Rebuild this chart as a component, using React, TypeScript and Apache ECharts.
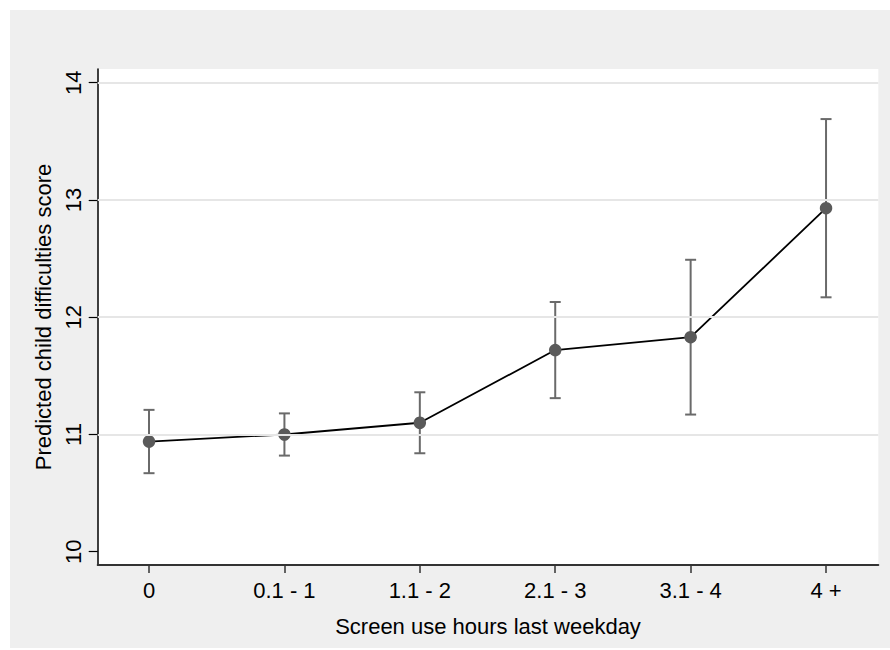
import React, { useEffect, useRef } from "react";
import * as echarts from "echarts";

const categories = ["0", "0.1 - 1", "1.1 - 2", "2.1 - 3", "3.1 - 4", "4 +"];
const means = [10.94, 11.0, 11.1, 11.72, 11.83, 12.93];
const lower = [10.67, 10.82, 10.84, 11.31, 11.17, 12.17];
const upper = [11.21, 11.18, 11.36, 12.13, 12.49, 13.69];
const yTicks = [10, 11, 12, 13, 14];
const gridLines = [11, 12, 13, 14];

const FONT = "'Liberation Sans', Arial, Helvetica, sans-serif";

export default function App() {
  const ref = useRef<HTMLDivElement>(null);
  useEffect(() => {
    if (!ref.current) return;
    const chart = echarts.init(ref.current, undefined, { renderer: "svg" });
    const xIdx = categories.map((_, i) => i);
    chart.setOption({
      animation: false,
      backgroundColor: "#ffffff",
      textStyle: { fontFamily: FONT },
      graphic: [
        {
          type: "rect",
          z: -100,
          silent: true,
          shape: { x: 10, y: 10, width: 880, height: 638 },
          style: { fill: "#efefef" },
        },
      ],
      grid: {
        left: 97.7,
        right: 11.7,
        top: 69,
        bottom: 85,
        show: true,
        backgroundColor: "#ffffff",
        borderWidth: 0,
      },
      xAxis: {
        type: "value",
        min: -0.379,
        max: 5.386,
        name: "Screen use hours last weekday",
        nameLocation: "middle",
        nameGap: 50,
        nameTextStyle: { fontSize: 22, color: "#000", fontFamily: FONT },
        axisLine: { show: true, onZero: false, lineStyle: { color: "#333", width: 2 } },
        axisTick: {
          show: true,
          customValues: xIdx,
          length: 8,
          lineStyle: { color: "#333", width: 1.5 },
        },
        axisLabel: {
          customValues: xIdx,
          formatter: (v: number) => categories[Math.round(v)] ?? "",
          fontSize: 22,
          color: "#000",
          margin: 14,
          fontFamily: FONT,
        },
        splitLine: { show: false },
      },
      yAxis: {
        type: "value",
        min: 9.887,
        max: 14.117,
        name: "Predicted child difficulties score",
        nameLocation: "middle",
        nameGap: 40,
        nameTextStyle: { fontSize: 22, color: "#000", fontFamily: FONT },
        axisLine: { show: true, onZero: false, lineStyle: { color: "#000", width: 1.5 } },
        axisTick: {
          show: true,
          customValues: yTicks,
          length: 9,
          lineStyle: { color: "#000", width: 1.2 },
        },
        axisLabel: {
          customValues: yTicks,
          rotate: 90,
          fontSize: 22,
          color: "#000",
          margin: 13,
          fontFamily: FONT,
        },
        splitLine: { show: false },
      },
      series: [
        {
          type: "line",
          data: [],
          silent: true,
          z: 1,
          markLine: {
            silent: true,
            symbol: "none",
            label: { show: false },
            lineStyle: { color: "#e6e6e6", width: 2, type: "solid" },
            data: gridLines.map((v) => ({ yAxis: v })),
          },
        },
        {
          type: "custom",
          z: 2,
          data: xIdx.map((i) => [i, lower[i], upper[i]]),
          renderItem: (params: any, api: any) => {
            const x = api.value(0);
            const lo = api.coord([x, api.value(1)]);
            const hi = api.coord([x, api.value(2)]);
            const half = 5.5;
            const style = { stroke: "#6a6a6a", lineWidth: 2 };
            return {
              type: "group",
              children: [
                { type: "line", shape: { x1: lo[0], y1: lo[1], x2: hi[0], y2: hi[1] }, style },
                { type: "line", shape: { x1: hi[0] - half, y1: hi[1], x2: hi[0] + half, y2: hi[1] }, style },
                { type: "line", shape: { x1: lo[0] - half, y1: lo[1], x2: lo[0] + half, y2: lo[1] }, style },
              ],
            };
          },
        },
        {
          type: "line",
          z: 3,
          data: xIdx.map((i) => [i, means[i]]),
          symbol: "circle",
          symbolSize: 12.5,
          lineStyle: { color: "#000", width: 1.8 },
          itemStyle: { color: "#5a5a5a" },
        },
      ],
    });
    return () => chart.dispose();
  }, []);
  return (
    <div
      ref={ref}
      style={{ position: "fixed", left: 0, top: 0, width: 890, height: 650 }}
    />
  );
}
